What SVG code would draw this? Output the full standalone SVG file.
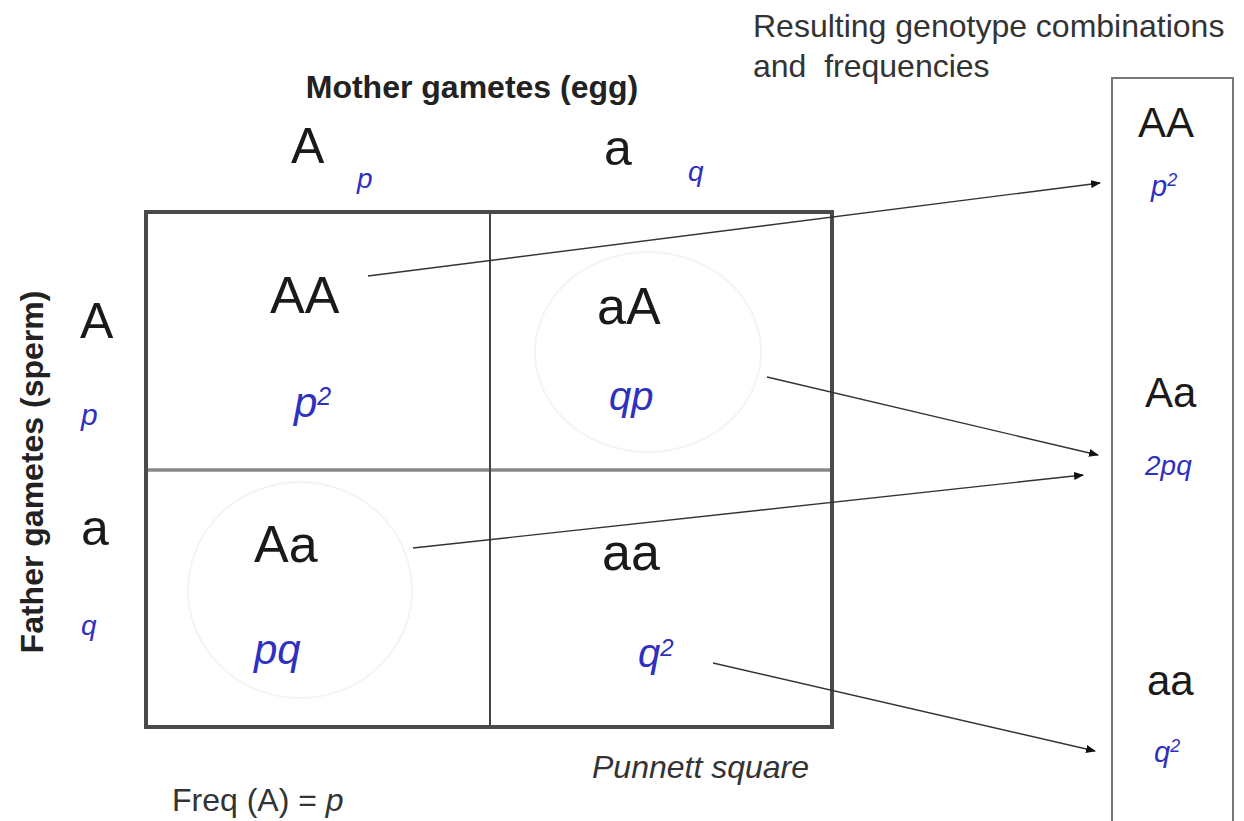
<svg xmlns="http://www.w3.org/2000/svg" width="1244" height="821" viewBox="0 0 1244 821">
  <style>
    .lbl { font-family: "Liberation Sans", Arial, sans-serif; fill: #1a1a1a; }
    .head { font-family: "Liberation Sans", Arial, sans-serif; font-weight: bold; font-size: 32px; fill: #222; }
    .note { font-family: "Liberation Sans", Arial, sans-serif; font-size: 32px; fill: #333; }
    .freq { font-family: "Liberation Sans", Arial, sans-serif; font-style: italic; fill: #3030c0; }
    .allele { font-size: 50px; }
    .geno { font-size: 52px; }
    .res { font-size: 42px; }
    .conn { stroke: #333; stroke-width: 1.4; fill: none; marker-end: url(#head); }
    .halo { fill: none; stroke: #f4f4f4; stroke-width: 2; }
  </style>
  <defs>
    <marker id="head" viewBox="0 0 10 8" refX="9" refY="4" markerWidth="10" markerHeight="8" markerUnits="userSpaceOnUse" orient="auto">
      <path d="M0,0 L10,4 L0,8 Z" fill="#111"/>
    </marker>
  </defs>

  <rect width="1244" height="821" fill="#fff"/>

  <!-- captions -->
  <text class="head" x="472" y="98" text-anchor="middle">Mother gametes (egg)</text>
  <text class="head" transform="translate(43,472) rotate(-90)" text-anchor="middle">Father gametes (sperm)</text>
  <text class="note" x="753" y="37">Resulting genotype combinations</text>
  <text class="note" x="753" y="77" xml:space="preserve">and  frequencies</text>
  <text class="note" x="592" y="778" font-style="italic">Punnett square</text>
  <text class="note" x="172" y="811">Freq (A) = <tspan font-style="italic">p</tspan></text>

  <!-- mother alleles -->
  <g id="mother-A">
    <text class="lbl allele" x="291" y="163">A</text>
    <text class="freq" x="357" y="188" font-size="28">p</text>
  </g>
  <g id="mother-a">
    <text class="lbl allele" x="604" y="165" font-size="48">a</text>
    <text class="freq" x="688" y="181" font-size="28">q</text>
  </g>

  <!-- father alleles -->
  <g id="father-A">
    <text class="lbl allele" x="80" y="338">A</text>
    <text class="freq" x="81" y="425" font-size="30">p</text>
  </g>
  <g id="father-a">
    <text class="lbl allele" x="81" y="545">a</text>
    <text class="freq" x="81" y="635" font-size="28">q</text>
  </g>

  <!-- Punnett square grid -->
  <g id="square">
    <ellipse class="halo" cx="648" cy="352" rx="113" ry="100"/>
    <ellipse class="halo" cx="300" cy="590" rx="112" ry="108"/>
    <line x1="147" y1="470" x2="831" y2="470" stroke="#888" stroke-width="3.5"/>
    <line x1="490" y1="212" x2="490" y2="727" stroke="#444" stroke-width="2"/>
    <rect x="146" y="212" width="686" height="515" fill="none" stroke="#4a4a4a" stroke-width="4"/>
  </g>

  <!-- cells -->
  <g id="cell-AA">
    <text class="lbl geno" x="270" y="313">AA</text>
    <text class="freq" x="294" y="417" font-size="42">p<tspan font-size="25" dy="-12">2</tspan></text>
  </g>
  <g id="cell-aA">
    <text class="lbl geno" x="597" y="324">aA</text>
    <text class="freq" x="609" y="410" font-size="40">qp</text>
  </g>
  <g id="cell-Aa">
    <text class="lbl geno" x="254" y="562" font-size="50">Aa</text>
    <text class="freq" x="254" y="664" font-size="42">pq</text>
  </g>
  <g id="cell-aa">
    <text class="lbl geno" x="602" y="570">aa</text>
    <text class="freq" x="638" y="667" font-size="40">q<tspan font-size="24" dy="-11">2</tspan></text>
  </g>

  <!-- results column -->
  <g id="results">
    <path d="M1112,821 V78 H1233 V821" fill="none" stroke="#777" stroke-width="2"/>
  </g>
  <g id="res-AA">
    <text class="lbl res" x="1138" y="137">AA</text>
    <text class="freq" x="1151" y="196" font-size="29">p<tspan font-size="18" dy="-10">2</tspan></text>
  </g>
  <g id="res-Aa">
    <text class="lbl res" x="1145" y="407">Aa</text>
    <text class="freq" x="1145" y="475" font-size="28">2pq</text>
  </g>
  <g id="res-aa">
    <text class="lbl res" x="1147" y="695">aa</text>
    <text class="freq" x="1154" y="762" font-size="29">q<tspan font-size="18" dy="-10">2</tspan></text>
  </g>

  <!-- connectors -->
  <g id="connectors">
    <line class="conn" x1="368" y1="276" x2="1100" y2="183"/>
    <line class="conn" x1="767" y1="377" x2="1098" y2="455"/>
    <line class="conn" x1="413" y1="548" x2="1083" y2="475"/>
    <line class="conn" x1="713" y1="663" x2="1095" y2="751"/>
  </g>
</svg>
